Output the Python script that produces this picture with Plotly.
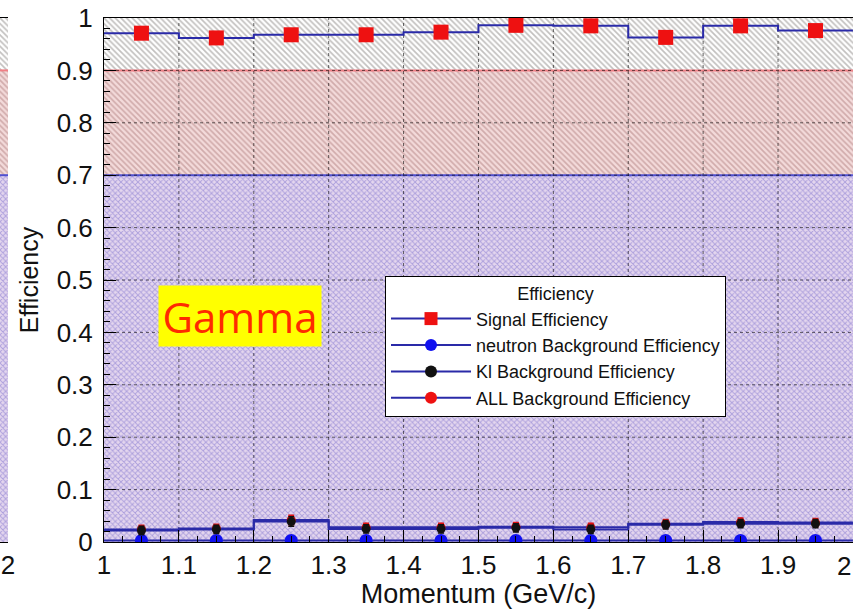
import plotly.graph_objects as go

# ---------------- data ----------------
bin_edges = [1.0, 1.1, 1.2, 1.3, 1.4, 1.5, 1.6, 1.7, 1.8, 1.9, 2.0]
bin_centers = [1.05, 1.15, 1.25, 1.35, 1.45, 1.55, 1.65, 1.75, 1.85, 1.95]
signal_eff = [0.971, 0.962, 0.968, 0.968, 0.973, 0.986, 0.985, 0.963, 0.985, 0.976]
signal_err = [0.006, 0.006, 0.006, 0.006, 0.006, 0.005, 0.005, 0.006, 0.005, 0.006]
neutron_eff = [0.003, 0.003, 0.003, 0.003, 0.003, 0.003, 0.003, 0.003, 0.003, 0.003]
neutron_err = [0.004, 0.004, 0.004, 0.004, 0.004, 0.004, 0.004, 0.004, 0.004, 0.004]
kl_eff = [0.022, 0.024, 0.039, 0.025, 0.025, 0.027, 0.024, 0.033, 0.035, 0.035]
kl_err = [0.008, 0.008, 0.009, 0.008, 0.008, 0.008, 0.008, 0.008, 0.008, 0.008]
all_eff = [0.024, 0.026, 0.042, 0.028, 0.028, 0.029, 0.028, 0.035, 0.038, 0.037]
all_err = [0.008, 0.008, 0.009, 0.008, 0.008, 0.008, 0.008, 0.008, 0.008, 0.008]

# hatched efficiency regions (low, high)
band_low = [0.0, 0.7, 0.9]
band_high = [0.7, 0.9, 1.0]

x_ticks = [1.0, 1.1, 1.2, 1.3, 1.4, 1.5, 1.6, 1.7, 1.8, 1.9, 2.0]
x_ticktext = ["1", "1.1", "1.2", "1.3", "1.4", "1.5", "1.6", "1.7", "1.8", "1.9", "2"]
y_ticks = [0.0, 0.1, 0.2, 0.3, 0.4, 0.5, 0.6, 0.7, 0.8, 0.9, 1.0]
y_ticktext = ["0", "0.1", "0.2", "0.3", "0.4", "0.5", "0.6", "0.7", "0.8", "0.9", "1"]

legend_names = ["Signal Efficiency", "neutron Background Efficiency",
                "Kl Background Efficiency", "ALL Background Efficiency"]

# ---------------- styles ----------------
W, H = 853, 609
PL, PR, PT, PB = 104, 853, 18, 542   # plot frame in pixels
band_fg = ["rgba(95,85,195,0.85)", "rgba(160,105,105,0.85)", "rgba(120,115,112,0.9)"]
band_bg = ["#e4d6ee", "#f3dada", "#ffffff"]
band_shape = ["x", "\\", "\\"]
band_top_color = ["#5050d0", "#f07f85", "rgba(0,0,0,0)"]
HIST_BLUE = "#2a2aa8"
FONT = "Liberation Sans, Arial, sans-serif"

fig = go.Figure()

def add_bands(xa, ya, xmin, xmax):
    for lo, hi, fg, bg, sh, tc in zip(band_low, band_high, band_fg, band_bg, band_shape, band_top_color):
        fig.add_trace(go.Bar(
            x=[(xmin + xmax) / 2], y=[hi - lo], base=[lo], width=[xmax - xmin],
            marker=dict(color=bg, line=dict(width=0),
                        pattern=dict(shape=sh, fgcolor=fg, bgcolor=bg, size=4, solidity=0.42)),
            xaxis=xa, yaxis=ya, showlegend=False, hoverinfo="skip"))
        fig.add_trace(go.Scatter(
            x=[xmin, xmax], y=[hi, hi], mode="lines", line=dict(color=tc, width=2),
            xaxis=xa, yaxis=ya, showlegend=False, hoverinfo="skip"))

add_bands("x", "y", bin_edges[0], bin_edges[-1])
add_bands("x2", "y2", 1.9, 2.0)

# dotted grid drawn over the hatched regions
gx, gy = [], []
for t in x_ticks[1:-1]:
    gx += [t, t, None]
    gy += [0, 1, None]
for t in y_ticks[1:-1]:
    gx += [bin_edges[0], bin_edges[-1], None]
    gy += [t, t, None]
fig.add_trace(go.Scatter(x=gx, y=gy, mode="lines",
                         line=dict(color="rgba(0,0,0,0.6)", width=1, dash="dot"),
                         showlegend=False, hoverinfo="skip"))

# histogram step lines
def step(vals):
    return bin_edges, vals + [vals[-1]]

for vals in [neutron_eff, kl_eff, all_eff, signal_eff]:
    sx, sy = step(vals)
    fig.add_trace(go.Scatter(x=sx, y=sy, mode="lines", line=dict(color=HIST_BLUE, width=2, shape="hv"),
                             showlegend=False, hoverinfo="skip"))

# markers with error bars
series = [
    (neutron_eff, neutron_err, "#1010f0", "circle", 13),
    (all_eff, all_err, "#e01010", "circle", 9),
    (kl_eff, kl_err, "#111111", "circle", 9),
    (signal_eff, signal_err, "#ee1111", "square", 15),
]
for vals, errs, col, sym, sz in series:
    fig.add_trace(go.Scatter(
        x=bin_centers, y=vals, mode="markers",
        marker=dict(color=col, symbol=sym, size=sz),
        error_y=dict(type="data", array=errs, color=col, thickness=1.5, width=3),
        showlegend=False))

# legend entries
leg_style = [("#ee1111", "square", 13), ("#1010f0", "circle", 12),
             ("#111111", "circle", 12), ("#ee1111", "circle", 12)]
for name, (col, sym, sz) in zip(legend_names, leg_style):
    fig.add_trace(go.Scatter(
        x=[None], y=[None], mode="lines+markers", name=name,
        line=dict(color=HIST_BLUE, width=2),
        marker=dict(color=col, symbol=sym, size=sz)))

tickfont = dict(family=FONT, size=26, color="#111")
axis_common = dict(showline=True, linecolor="black", linewidth=1, mirror=True,
                   ticks="inside", tickcolor="black", showgrid=False, zeroline=False,
                   tickfont=tickfont, automargin=False)

# the last x label sits at the right edge of the page: draw it right-aligned so it stays visible
main_ticktext = x_ticktext[:-1] + [""]
edge_label = dict(x=1.0, xref="paper", y=0, yref="paper", yshift=-24, text=x_ticktext[-1],
                  showarrow=False, xanchor="right", yanchor="middle", font=tickfont)

fig.update_layout(
    width=W, height=H,
    margin=dict(l=0, r=0, t=PT, b=H - PB),
    paper_bgcolor="white", plot_bgcolor="white",
    barmode="overlay", bargap=0,
    showlegend=True,
    xaxis=dict(range=[1.0, 2.0001], domain=[PL / W, PR / W], tickvals=x_ticks, ticktext=main_ticktext,
               ticklen=12, minor=dict(ticks="inside", ticklen=6, dtick=0.025, tickcolor="black"),
               title=dict(text="Momentum (GeV/c)", font=dict(family=FONT, size=27, color="#111"), standoff=0),
               **axis_common),
    yaxis=dict(range=[0.0, 1.0], tickvals=y_ticks, ticktext=y_ticktext,
               ticklen=12, minor=dict(ticks="inside", ticklen=6, dtick=0.02, tickcolor="black"),
               ticklabelstandoff=5,
               title=dict(text="Efficiency", font=dict(family=FONT, size=25, color="#111"), standoff=10),
               **axis_common),
    xaxis2=dict(range=[1.9, 2.0], domain=[0, 8 / W], anchor="y2", tickvals=[2.0], ticktext=["2"],
                showline=True, linecolor="black", mirror=True, ticks="", showgrid=False, zeroline=False,
                tickfont=tickfont, automargin=False, ticklabeloverflow="allow"),
    yaxis2=dict(range=[0.0, 1.0], anchor="x2", showticklabels=False, showgrid=False, zeroline=False,
                showline=False, ticks="", automargin=False),
    legend=dict(x=385 / W, y=(PB - 276) / (PB - PT), xanchor="left", yanchor="top",
                bgcolor="white", bordercolor="black", borderwidth=1,
                font=dict(family=FONT, size=18, color="#111"),
                title=dict(text="Efficiency", side="top center", font=dict(family=FONT, size=18, color="#111")),
                itemwidth=80, tracegroupgap=0),
    annotations=[dict(x=1.1816, y=0.431, xref="x", yref="y", text="Gamma", showarrow=False,
                      font=dict(family="Open Sans, Noto Sans, sans-serif", size=42, color="#ff2a00"),
                      bgcolor="#ffff00", width=160, height=58),
                 edge_label],
)

fig.write_html("out.html")
